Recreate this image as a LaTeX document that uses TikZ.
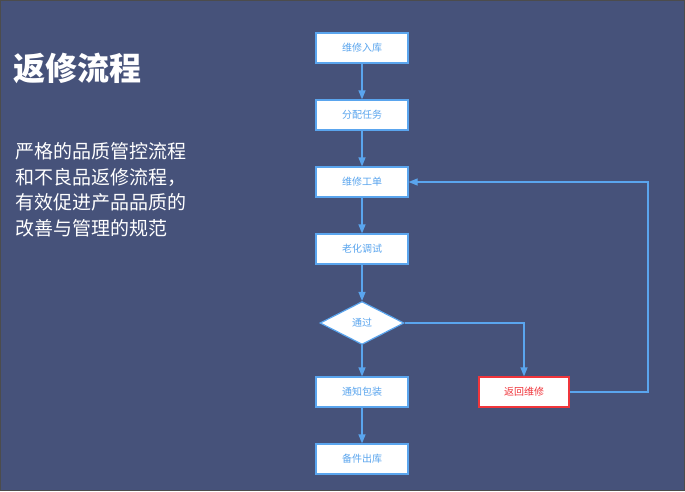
\documentclass[tikz,border=0pt]{standalone}
\usepackage{fontspec}
\setmainfont{Noto Sans CJK SC}
\usetikzlibrary{shapes.geometric,arrows.meta,positioning}
\definecolor{bgblue}{HTML}{46527A}
\definecolor{flowblue}{HTML}{5AA5EE}
\definecolor{backred}{HTML}{F0353B}
\tikzset{
    stepbox/.style={draw=flowblue, line width=1.2pt, fill=white, text=flowblue,
        minimum width=92pt, minimum height=30pt, font=\fontsize{10}{12}\selectfont},
    flow/.style={draw=flowblue, line width=1.2pt, -{Triangle[length=9pt,width=7pt]}},
}
\begin{document}
\begin{tikzpicture}[x=1pt,y=-1pt]
    \useasboundingbox (0,0) rectangle (685,491);
    \fill[bgblue, draw=black!70] (0.5,0.5) rectangle (684.5,490.5);
    \node[anchor=west, text=white, font=\fontsize{32}{36}\selectfont\bfseries] (title) at (10,68) {返修流程};
    \node[anchor=north west, text=white, align=left, font=\fontsize{19}{25.5}\selectfont] (desc) at (12,139)
        {严格的品质管控流程\\和不良品返修流程，\\有效促进产品品质的\\改善与管理的规范};
    \node[stepbox] (ruku) at (362,48) {维修入库};
    \node[stepbox] (fenpei) at (362,115) {分配任务};
    \node[stepbox] (gongdan) at (362,182) {维修工单};
    \node[stepbox] (laohua) at (362,249) {老化调试};
    \node[draw=flowblue, line width=1.2pt, fill=white, text=flowblue, diamond, aspect=2,
        minimum width=84pt, minimum height=43pt, inner sep=0pt, font=\fontsize{10}{12}\selectfont] (tongguo) at (362,323) {通过};
    \node[stepbox] (baozhuang) at (362,392) {通知包装};
    \node[stepbox] (beijian) at (362,459) {备件出库};
    \node[stepbox, draw=backred, text=backred, minimum width=90pt] (fanhui) at (524,392) {返回维修};
    \draw[flow] (ruku) -- (fenpei);
    \draw[flow] (fenpei) -- (gongdan);
    \draw[flow] (gongdan) -- (laohua);
    \draw[flow] (laohua) -- (tongguo);
    \draw[flow] (tongguo) -- (baozhuang);
    \draw[flow] (baozhuang) -- (beijian);
    \draw[flow] (tongguo.east) -| (fanhui.north);
    \draw[flow] (fanhui.east) -- (648,392) |- (gongdan.east);
\end{tikzpicture}
\end{document}
